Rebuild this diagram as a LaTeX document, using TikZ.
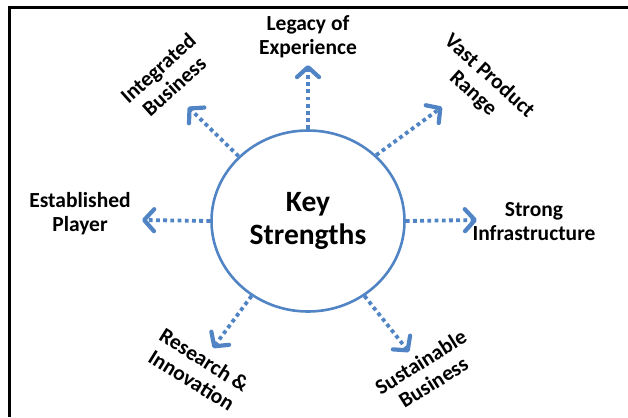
\documentclass[tikz,border=0pt]{standalone}
\usepackage{fontspec}
\setmainfont{Carlito}
\usetikzlibrary{arrows.meta,shapes.geometric}
\definecolor{ksblue}{RGB}{80,132,196}
\begin{document}
\begin{tikzpicture}[x=1pt,y=-1pt,
  label/.style={align=center,inner sep=0pt,text=black,
    font=\fontsize{21.5}{24}\selectfont\bfseries},
  centre/.style={ellipse,draw=ksblue,line width=2.6pt,
    minimum width=193pt,minimum height=181pt,inner sep=0pt,
    align=center,font=\fontsize{29.5}{33}\selectfont\bfseries},
  link/.style={draw=ksblue,line width=3.8pt,dash pattern=on 3.8pt off 3.4pt,
    -{Straight Barb[length=10pt,width=22pt,line width=4.2pt,round]}}]
\useasboundingbox (0,0) rectangle (628,417);
% frame edges
\draw[line width=3pt] (9.5,417) -- (9.5,7.5) -- (628,7.5);

% central ellipse
\node[centre] (ks) at (308,221) {Key\\Strengths};

% labels
\node[label] (legacy) at (308,37) {Legacy of\\Experience};
\node[label] (estab) at (80,214) {Established\\Player};
\node[label] (strong) at (534,222) {Strong\\Infrastructure};
\node[label,rotate=42] (integ) at (166,77) {Integrated\\Business};
\node[label,rotate=-42] (vast) at (481,85) {Vast Product\\Range};
\node[label,rotate=-32] (research) at (198,370) {Research \&\\Innovation};
\node[label,rotate=32] (sustain) at (427,372) {Sustainable\\Business};

% arrow tips
\coordinate (tUp) at (308,65);
\coordinate (tUL) at (188,107);
\coordinate (tUR) at (442,107);
\coordinate (tL) at (142,220);
\coordinate (tR) at (477,220);
\coordinate (tLL) at (213,348);
\coordinate (tLR) at (409,352);

% dotted connectors
\draw[link] (ks.90) -- (tUp);
\draw[link] (ks.137) -- (tUL);
\draw[link] (ks.44) -- (tUR);
\draw[link] (ks.180) -- (tL);
\draw[link] (ks.0) -- (tR);
\draw[link] (ks.233) -- (tLL);
\draw[link] (ks.307) -- (tLR);
\end{tikzpicture}
\end{document}
